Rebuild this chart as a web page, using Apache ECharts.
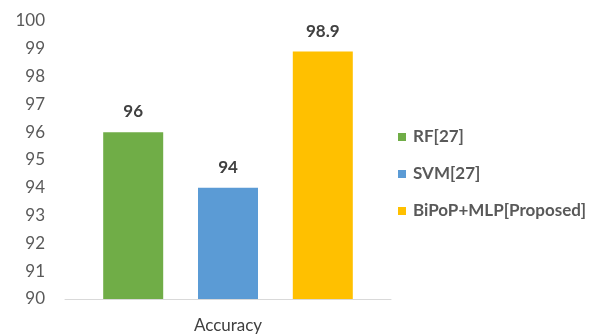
<!DOCTYPE html>
<html>
<head>
<meta charset="utf-8">
<script src="https://cdn.jsdelivr.net/npm/echarts@6/dist/echarts.min.js"></script>
<style>
  html, body { margin: 0; padding: 0; background: #fff; }
  #chart { width: 605px; height: 336px; }
</style>
</head>
<body>
<div id="chart"></div>
<script>
// Accuracy of the compared classifiers
const categories = ['Accuracy'];
const seriesNames = ['RF[27]', 'SVM[27]', 'BiPoP+MLP[Proposed]'];
const seriesValues = [[96], [94], [98.9]];
const seriesColors = ['#70ad47', '#5b9bd5', '#ffc000'];
const yTicks = { min: 90, max: 100, interval: 1 };

const fontFamily = 'Lato, "Open Sans", sans-serif';
const chart = echarts.init(document.getElementById('chart'), null, { renderer: 'canvas' });

const series = seriesNames.map((name, i) => ({
  name: name,
  type: 'bar',
  data: seriesValues[i],
  barWidth: 60,
  barGap: '58%',
  itemStyle: { color: seriesColors[i] },
  label: {
    show: true,
    position: 'top',
    distance: 12,
    fontFamily: fontFamily,
    fontSize: 17,
    fontWeight: 'bold',
    color: '#404040'
  }
}));

chart.setOption({
  animation: false,
  grid: { left: 65, right: 214, top: 21, bottom: 37, containLabel: false },
  legend: {
    orient: 'vertical',
    left: 393,
    top: 122,
    itemWidth: 8,
    itemHeight: 8,
    itemGap: 17,
    icon: 'rect',
    textStyle: {
      fontFamily: fontFamily,
      fontSize: 17,
      lineHeight: 20,
      fontWeight: 'bold',
      color: '#595959',
      padding: [0, 0, 0, 2]
    },
    data: seriesNames
  },
  xAxis: {
    type: 'category',
    data: categories,
    axisLine: { show: true, lineStyle: { color: '#d9d9d9', width: 1 } },
    axisTick: { show: false },
    axisLabel: {
      fontFamily: fontFamily,
      fontSize: 17,
      color: '#404040',
      margin: 18
    }
  },
  yAxis: {
    type: 'value',
    min: yTicks.min,
    max: yTicks.max,
    interval: yTicks.interval,
    splitLine: { show: false },
    axisLine: { show: false },
    axisTick: { show: false },
    axisLabel: {
      fontFamily: fontFamily,
      fontSize: 17,
      color: '#595959',
      margin: 20
    }
  },
  series: series
});
</script>
</body>
</html>
